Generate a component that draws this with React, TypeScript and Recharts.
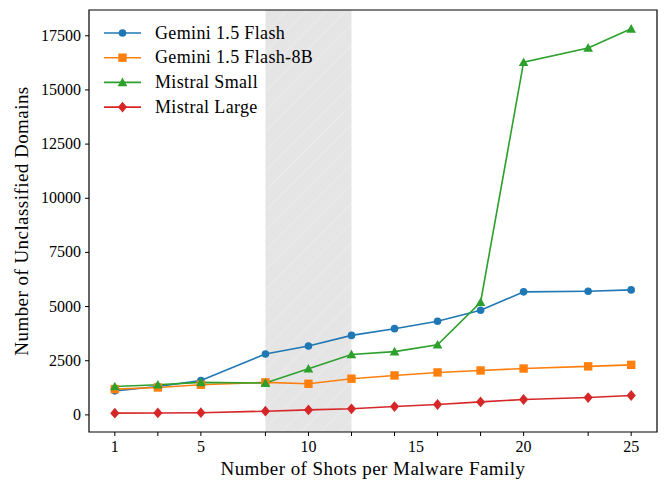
import React from "react";
import {
  LineChart,
  Line,
  XAxis,
  YAxis,
  ReferenceArea,
} from "recharts";

// shots per malware family (x) and unclassified domain counts per model
const shots = [1, 3, 5, 8, 10, 12, 14, 16, 18, 20, 23, 25];
const geminiFlash = [1110, 1310, 1590, 2810, 3180, 3670, 3980, 4320, 4830, 5680, 5710, 5770];
const geminiFlash8b = [1190, 1265, 1390, 1500, 1435, 1670, 1820, 1960, 2050, 2140, 2240, 2310];
const mistralSmall = [1310, 1390, 1500, 1470, 2130, 2790, 2920, 3240, 5200, 16280, 16940, 17820];
const mistralLarge = [80, 90, 100, 170, 230, 280, 385, 480, 600, 710, 800, 895];

const xLabels = [1, 5, 10, 15, 20, 25];
const yTicks = [0, 2500, 5000, 7500, 10000, 12500, 15000, 17500];

const X_DOMAIN: [number, number] = [-0.2, 26.2];
const Y_DOMAIN: [number, number] = [-790, 18690];

const FONT = "'Liberation Serif', 'Times New Roman', serif";

type Shape = "circle" | "square" | "triangle" | "diamond";

const series: { key: string; name: string; color: string; shape: Shape }[] = [
  { key: "flash", name: "Gemini 1.5 Flash", color: "#1f77b4", shape: "circle" },
  { key: "flash8b", name: "Gemini 1.5 Flash-8B", color: "#ff7f0e", shape: "square" },
  { key: "small", name: "Mistral Small", color: "#2ca02c", shape: "triangle" },
  { key: "large", name: "Mistral Large", color: "#d62728", shape: "diamond" },
];

const data = shots.map((s, i) => ({
  shots: s,
  flash: geminiFlash[i],
  flash8b: geminiFlash8b[i],
  small: mistralSmall[i],
  large: mistralLarge[i],
}));

function Marker({ cx, cy, shape, color }: { cx: number; cy: number; shape: Shape; color: string }) {
  if (cx == null || cy == null) return null;
  if (shape === "circle") return <circle cx={cx} cy={cy} r={3.8} fill={color} />;
  if (shape === "square") return <rect x={cx - 4.2} y={cy - 4.2} width={8.4} height={8.4} fill={color} />;
  if (shape === "triangle") {
    const s = 4.8;
    return <polygon points={`${cx},${cy - s} ${cx - s},${cy + s * 0.8} ${cx + s},${cy + s * 0.8}`} fill={color} />;
  }
  const d = 5.4;
  return <polygon points={`${cx},${cy - d} ${cx + d * 0.85},${cy} ${cx},${cy + d} ${cx - d * 0.85},${cy}`} fill={color} />;
}

function ShotTick(props: any) {
  const { x, y, payload } = props;
  const v = payload.value;
  return (
    <g>
      {shots.includes(v) && <line x1={x} x2={x} y1={y} y2={y + 4} stroke="#000" strokeWidth={1} />}
      {xLabels.includes(v) && (
        <text x={x} y={y + 20} textAnchor="middle" fontSize={16} fontFamily={FONT} fill="#000">
          {v}
        </text>
      )}
    </g>
  );
}

function CountTick(props: any) {
  const { x, y, payload } = props;
  return (
    <g>
      <line x1={x + 4} x2={x + 8} y1={y} y2={y} stroke="#000" strokeWidth={1} />
      <text x={x} y={y + 5} textAnchor="end" fontSize={16} fontFamily={FONT} fill="#000">
        {payload.value}
      </text>
    </g>
  );
}

// legend sits over the plot's top-left corner
function LegendBox() {
  return (
    <svg width={240} height={120} style={{ position: "absolute", left: 98, top: 20 }}>
      {series.map((s, i) => {
        const y = 13 + i * 24.7;
        return (
          <g key={s.key}>
            <line x1={6} x2={43} y1={y} y2={y} stroke={s.color} strokeWidth={1.6} />
            <Marker cx={24.5} cy={y} shape={s.shape} color={s.color} />
            <text x={57} y={y + 5.5} fontSize={18} letterSpacing={0.35} fontFamily={FONT} fill="#000">
              {s.name}
            </text>
          </g>
        );
      })}
    </svg>
  );
}

export default function App() {
  return (
    <div style={{ position: "absolute", left: 0, top: 0, width: 664, height: 481, background: "#fff" }}>
      <LineChart
        width={664}
        height={481}
        data={data}
        margin={{ top: 10, right: 7, left: 0, bottom: 0 }}
      >
        <defs>
          <pattern id="hatch" width={14} height={14} patternUnits="userSpaceOnUse" patternTransform="rotate(45)">
            <rect width={14} height={14} fill="#e5e5e5" />
            <line x1={0} y1={0} x2={0} y2={14} stroke="#fff" strokeWidth={1} strokeOpacity={0.45} />
          </pattern>
        </defs>
        <XAxis
          dataKey="shots"
          type="number"
          domain={X_DOMAIN}
          ticks={[1, 3, 5, 8, 10, 12, 14, 15, 16, 18, 20, 23, 25]}
          interval={0}
          tick={<ShotTick />}
          tickSize={0}
          tickMargin={0}
          tickLine={false}
          axisLine={false}
          height={49}
          allowDataOverflow
          label={{ value: "Number of Shots per Malware Family", position: "insideBottom", offset: 6, fontSize: 19, letterSpacing: 0.45, fontFamily: FONT, fill: "#000" }}
        />
        <YAxis
          type="number"
          domain={Y_DOMAIN}
          ticks={yTicks}
          interval={0}
          allowDataOverflow
          width={89}
          tickSize={0}
          tickMargin={8}
          tickLine={false}
          axisLine={false}
          tick={<CountTick />}
          label={{ value: "Number of Unclassified Domains", angle: -90, position: "insideLeft", offset: 21, fontSize: 19, letterSpacing: 0.45, fontFamily: FONT, fill: "#000", style: { textAnchor: "middle" } }}
        />
        <ReferenceArea x1={8} x2={12} y1={Y_DOMAIN[0]} y2={Y_DOMAIN[1]} fill="url(#hatch)" fillOpacity={1} stroke="none" ifOverflow="hidden" />
        {series.map((s) => (
          <Line
            key={s.key}
            dataKey={s.key}
            name={s.name}
            stroke={s.color}
            strokeWidth={1.6}
            isAnimationActive={false}
            dot={(p: any) => <Marker key={`${s.key}-${p.index}`} cx={p.cx} cy={p.cy} shape={s.shape} color={s.color} />}
            activeDot={false}
          />
        ))}
        {/* axes frame */}
        <ReferenceArea x1={X_DOMAIN[0]} x2={X_DOMAIN[1]} y1={Y_DOMAIN[0]} y2={Y_DOMAIN[1]} fill="none" stroke="#000" strokeWidth={1.2} ifOverflow="visible" />
      </LineChart>
      <LegendBox />
    </div>
  );
}
